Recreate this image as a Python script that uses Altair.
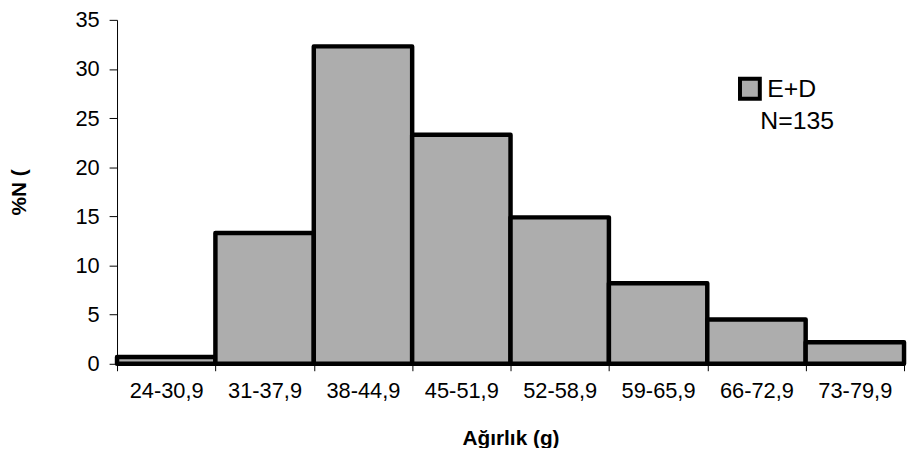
import altair as alt
import pandas as pd

categories = ["24-30,9", "31-37,9", "38-44,9", "45-51,9", "52-58,9", "59-65,9", "66-72,9", "73-79,9"]
percent = [0.7, 13.3, 32.3, 23.3, 14.9, 8.2, 4.5, 2.2]
series_name = "E+D"
note_text = "N=135"
y_ticks = [0, 5, 10, 15, 20, 25, 30, 35]

df = pd.DataFrame({"cat": categories, "pct": percent, "series": [series_name] * len(categories)})
note_df = pd.DataFrame({"note": [note_text]})

FONT = "Liberation Sans"

bars = alt.Chart(df).mark_bar(stroke="black", strokeWidth=4.5, strokeJoin="round").encode(
    x=alt.X("cat:N", sort=categories,
            scale=alt.Scale(paddingInner=0, paddingOuter=0),
            axis=alt.Axis(title="Ağırlık (g)", labelAngle=0, tickBand="extent",
                          tickSize=7, labelPadding=10, labelFontSize=22,
                          titleFontSize=21, titleFontWeight="bold",
                          titleX=397, titleY=75, titleBaseline="middle", titleAlign="center")),
    y=alt.Y("pct:Q", scale=alt.Scale(domain=[0, 35], nice=False),
            axis=alt.Axis(title="%N (", values=y_ticks, tickSize=8, labelPadding=10,
                          labelFontSize=22, titleFontSize=21, titleFontWeight="bold",
                          titleAngle=270, titleX=-98, titleY=173.5,
                          titleBaseline="middle", titleAlign="center", grid=False)),
    fill=alt.Fill("series:N", scale=alt.Scale(domain=[series_name], range=["#adadad"]),
                  legend=alt.Legend(title=None, orient="none", legendX=626, legendY=57,
                                    symbolType="square", symbolSize=400,
                                    symbolStrokeColor="black", symbolStrokeWidth=4,
                                    labelFontSize=25, labelOffset=5, padding=0,
                                    labelFont=FONT, labelColor="black")),
)

note = alt.Chart(note_df).mark_text(align="left", baseline="alphabetic", fontSize=25,
                                    font=FONT, color="black").encode(
    x=alt.value(649), y=alt.value(110), text="note:N")

chart = alt.layer(bars, note).properties(
    width=794, height=347,
    autosize=alt.AutoSizeParams(type="none"),
    padding={"left": 110, "top": 10, "right": 4, "bottom": 83},
    background="white",
).configure_view(stroke=None).configure_axis(
    labelFont=FONT, titleFont=FONT, labelColor="black", titleColor="black",
    domainColor="black", tickColor="black", domainWidth=1, tickWidth=1,
)

chart.save("out.html", embed_options={"renderer": "svg", "actions": False})
